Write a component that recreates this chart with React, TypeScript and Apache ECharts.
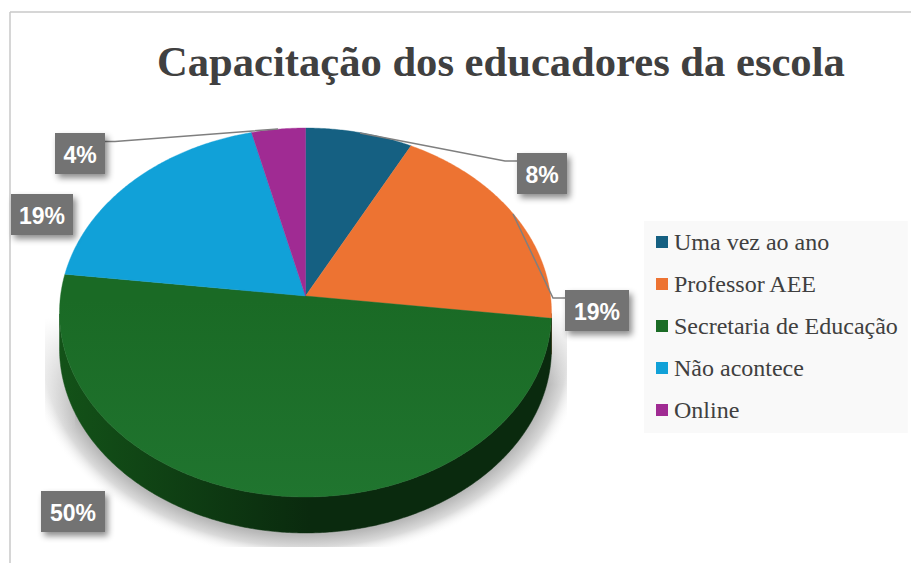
import React, { useEffect, useRef } from "react";
import * as echarts from "echarts";

const categories = ["Uma vez ao ano", "Professor AEE", "Secretaria de Educação", "Não acontece", "Online"];
const respostas = [2, 5, 13, 5, 1];
const cores = ["#156082", "#ED7332", "#1B6C26", "#11A1D8", "#A02B93"];
const titulo = "Capacitação dos educadores da escola";

const total = respostas.reduce((a, b) => a + b, 0);
const inicio = respostas.map((_, i) => respostas.slice(0, i).reduce((a, b) => a + b, 0));

// projection of the tilted disk
const CX = 305.5, CY = 296, A = 183, B = 245, K = 0.0894, DEPTH = 36;
const MID_Y = 312.5;
const proj = (fr: number): [number, number] => {
  const t = fr * Math.PI * 2;
  const u = Math.sin(t), v = -Math.cos(t);
  const d = 1 - K * v;
  return [CX + (B * u) / d, CY + (A * v) / d];
};

const arc = (s: number, e: number) => {
  const n = Math.max(2, Math.ceil((e - s) * 720));
  const pts: [number, number][] = [];
  for (let i = 0; i <= n; i++) pts.push(proj(s + ((e - s) * i) / n));
  return pts;
};

const topFill = (i: number): any =>
  i === 2
    ? new echarts.graphic.LinearGradient(0, 300, 0, 500, [
        { offset: 0, color: "#1A6A25" },
        { offset: 1, color: "#20752F" },
      ], true)
    : cores[i];

const sideFill = (i: number): any =>
  i === 2
    ? new echarts.graphic.LinearGradient(60, 0, 310, 0, [
        { offset: 0, color: "#135218" },
        { offset: 1, color: "#0A2A0E" },
      ], true)
    : "#70360F";

const sliceSeries = (i: number) => ({
  type: "custom",
  name: categories[i],
  coordinateSystem: "none",
  silent: true,
  z: 3,
  itemStyle: { color: cores[i] },
  data: [[respostas[i]]],
  renderItem: (_: any, api: any) => {
    const s = inicio[i] / total;
    const e = s + api.value(0) / total;
    const pts = arc(s, e);
    const low = pts.filter((p) => p[1] >= MID_Y);
    const children: any[] = [];
    if (low.length > 1) {
      const shifted = low.map((p) => [p[0], p[1] + DEPTH]).reverse();
      children.push({
        type: "polygon",
        shape: { points: [...low, ...shifted] },
        style: { fill: sideFill(i), stroke: sideFill(i), lineWidth: 0.5 },
      });
    }
    children.push({
      type: "polygon",
      shape: { points: [[CX, CY], ...pts] },
      style: { fill: topFill(i), stroke: topFill(i), lineWidth: 0.4 },
    });
    return { type: "group", children };
  },
});

const caixas = [
  { x: 517, y: 153, w: 50, h: 41 },
  { x: 565, y: 290, w: 64, h: 41 },
  { x: 41, y: 491, w: 64, h: 41 },
  { x: 11, y: 194, w: 62, h: 41 },
  { x: 55, y: 133, w: 50, h: 41 },
];
const guias: (number[][] | null)[] = [
  [[517, 161], [505, 161], [360, 133]],
  [[565, 298], [553, 298], [513, 214]],
  null,
  null,
  [[105, 141.5], [115, 141.5], [278, 129]],
];

const labelSeries = {
  type: "custom",
  name: "rótulos",
  coordinateSystem: "none",
  silent: true,
  z: 6,
  data: respostas.map((v) => [v]),
  renderItem: (p: any, api: any) => {
    const i = p.dataIndex;
    const b = caixas[i];
    const children: any[] = [];
    if (guias[i]) {
      children.push({
        type: "polyline",
        shape: { points: guias[i] },
        style: { fill: "none", stroke: "#7F7F7F", lineWidth: 1.5 },
      });
    }
    children.push({
      type: "rect",
      shape: { x: b.x, y: b.y, width: b.w, height: b.h },
      style: {
        fill: "#737373",
        shadowBlur: 6,
        shadowOffsetX: 3,
        shadowOffsetY: 4,
        shadowColor: "rgba(0,0,0,0.45)",
      },
    });
    children.push({
      type: "text",
      style: {
        x: b.x + b.w / 2,
        y: b.y + b.h / 2 + 1,
        text: Math.round((api.value(0) / total) * 100) + "%",
        fill: "#FFFFFF",
        font: 'bold 23px "Liberation Sans"',
        align: "center",
        verticalAlign: "middle",
      },
    });
    return { type: "group", children };
  },
};

const fade = (x: number, w: number, y: number, h: number) => ({
  type: "rect",
  z: 1,
  shape: { x, y, width: w, height: h },
  style: {
    fill: new echarts.graphic.LinearGradient(0, 0, 0, 1, [
      { offset: 0, color: "rgba(255,255,255,1)" },
      { offset: 0.2, color: "rgba(255,255,255,1)" },
      { offset: 1, color: "rgba(255,255,255,0)" },
    ]),
  },
});

const option: any = {
  animation: false,
  backgroundColor: "#FFFFFF",
  title: {
    text: titulo,
    left: 152,
    top: 35,
    textStyle: { fontFamily: "Liberation Serif", fontWeight: "bold", fontSize: 42.6, color: "#404040" },
  },
  legend: {
    data: categories,
    orient: "vertical",
    left: 644,
    top: 221,
    padding: [9, 10, 11, 12],
    backgroundColor: "#F9F9F9",
    icon: "rect",
    itemWidth: 12,
    itemHeight: 12,
    itemGap: 18,
    selectedMode: false,
    textStyle: {
      fontFamily: "Liberation Serif",
      fontSize: 24,
      color: "#404040",
      lineHeight: 24,
      padding: [0, 0, 0, 1],
    },
  },
  graphic: {
    elements: [
      {
        type: "ellipse",
        z: 0,
        shape: { cx: 305, cy: 345, rx: 280, ry: 215 },
        style: {
          fill: new echarts.graphic.RadialGradient(0.5, 0.5, 0.5, [
            { offset: 0, color: "#B8B8B8" },
            { offset: 0.885, color: "#B8B8B8" },
            { offset: 0.94, color: "#DADADA" },
            { offset: 1, color: "rgba(255,255,255,0)" },
          ]),
        },
      },
      fade(11, 64, 290, 140),
      fade(535, 45, 290, 95),
      { type: "rect", z: 1, shape: { x: 11, y: 100, width: 620, height: 190 }, style: { fill: "#FFFFFF" } },
      { type: "rect", z: 1, shape: { x: 11, y: 547, width: 620, height: 16 }, style: { fill: "#FFFFFF" } },
      { type: "rect", z: 1, shape: { x: 11, y: 290, width: 34, height: 260 }, style: { fill: "#FFFFFF" } },
      { type: "rect", z: 1, shape: { x: 567, y: 290, width: 60, height: 260 }, style: { fill: "#FFFFFF" } },
      { type: "line", z: 1, shape: { x1: 10, y1: 12, x2: 911, y2: 12 }, style: { stroke: "#C8C8C8", lineWidth: 1.5 } },
      { type: "line", z: 1, shape: { x1: 10, y1: 12, x2: 10, y2: 563 }, style: { stroke: "#C8C8C8", lineWidth: 1.5 } },
    ],
  },
  series: [...categories.map((_, i) => sliceSeries(i)), labelSeries],
};

export default function App() {
  const ref = useRef<HTMLDivElement>(null);
  useEffect(() => {
    document.body.style.margin = "0";
    const chart = echarts.init(ref.current!, null, { renderer: "svg" });
    chart.setOption(option);
    return () => chart.dispose();
  }, []);
  return <div ref={ref} style={{ width: 911, height: 563 }} />;
}
